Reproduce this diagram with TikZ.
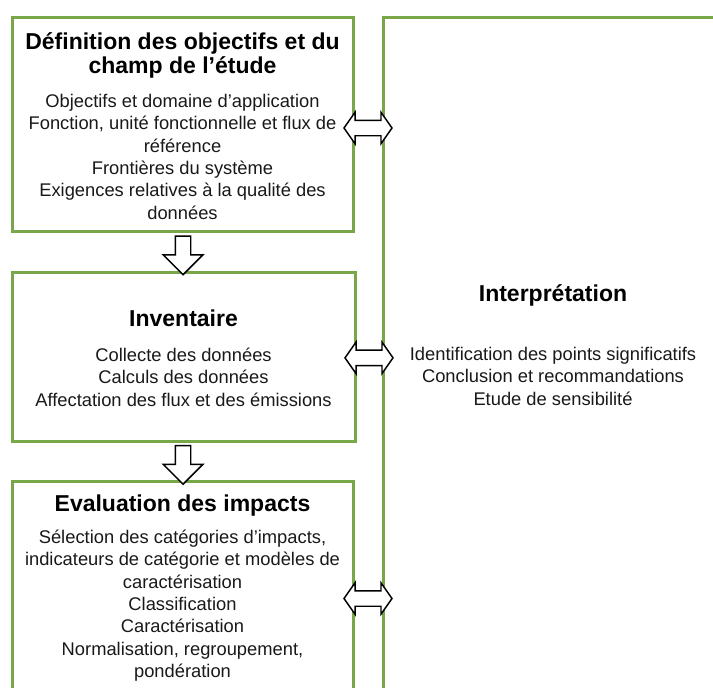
\documentclass[tikz,border=0pt]{standalone}
\usepackage{fontspec}
\setmainfont{Liberation Sans}
\usetikzlibrary{shapes.arrows,shadows}

\definecolor{acvgreen}{RGB}{122,166,74}

\tikzset{every picture/.style={line width=0.75pt}}
\tikzset{
  phasebox/.style={rectangle, draw=acvgreen, line width=2.25pt, fill=white, inner sep=0pt,
    drop shadow={shadow xshift=1pt, shadow yshift=-1pt, opacity=0.35, fill=black!60}},
  titletext/.style={anchor=base, inner sep=0pt, text=black,
    font=\fontsize{17.25}{17.25}\selectfont\bfseries},
  bodytext/.style={anchor=base, inner sep=0pt, text=black!90,
    font=\fontsize{13.75}{16.75}\selectfont},
  downarrow/.style={single arrow, draw=black, fill=white, line width=1.1pt, rotate=-90,
    minimum height=29pt, minimum width=28.5pt, single arrow head extend=9pt, inner sep=5.25pt},
  botharrow/.style={double arrow, draw=black, fill=white, line width=1.1pt,
    minimum height=36pt, minimum width=22.5pt, double arrow head extend=6pt,
    double arrow tip angle=110, inner sep=5.25pt}
}
\newcommand{\blocklines}[1]{\begin{tabular}[t]{@{}c@{}}#1\end{tabular}}

\begin{document}
\begin{tikzpicture}[x=0.75pt,y=0.75pt,yscale=-1,xscale=1]
	\useasboundingbox (0,0) rectangle (713,687);
	\clip (0,0) rectangle (713,687);
	
	% Phase boxes
	\node[phasebox, minimum width=255.75pt, minimum height=160.5pt] (defin) at (182.5,124) {};
	\node[phasebox, minimum width=257.25pt, minimum height=126.75pt] (invent) at (183.5,356.5) {};
	\node[phasebox, minimum width=255.75pt, minimum height=164.25pt] (evalu) at (182.5,590.5) {};
	\node[phasebox, minimum width=267.75pt, minimum height=512.25pt] (interp) at (561.5,358.5) {};
	
	% Block arrows between the phases
	\path (defin.south) -- (invent.north) node[midway, downarrow] (down1) {};
	\path (invent.south) -- (evalu.north) node[midway, downarrow] (down2) {};
	\path ([yshift=3pt]defin.east) -- ([yshift=3pt]interp.west |- defin.east) node[midway, botharrow] (link1) {};
	\path ([yshift=1pt]invent.east) -- ([yshift=1pt]interp.west |- invent.east) node[midway, botharrow] (link2) {};
	\path ([yshift=6pt]evalu.east) -- ([yshift=6pt]interp.west |- evalu.east) node[midway, botharrow] (link3) {};
	
	% Text Node
	\node[titletext] (definT) at (182.5,49.5) {\blocklines{Définition des objectifs et du\\champ de l’étude}};
	% Text Node
	\node[bodytext] (definB) at (182.5,107.5) {\blocklines{Objectifs et domaine d’application\\Fonction, unité fonctionnelle et flux de\\référence\\Frontières du système\\Exigences relatives à la qualité des\\données}};
	% Text Node
	\node[titletext] (inventT) at (183.5,326) {\blocklines{Inventaire}};
	% Text Node
	\node[bodytext] (inventB) at (183.5,361.5) {\blocklines{Collecte des données\\Calculs des données\\Affectation des flux et des émissions}};
	% Text Node
	\node[titletext] (evaluT) at (182.5,511) {\blocklines{Evaluation des impacts}};
	% Text Node
	\node[bodytext] (evaluB) at (182.5,543.5) {\blocklines{Sélection des catégories d’impacts,\\indicateurs de catégorie et modèles de\\caractérisation\\Classification\\Caractérisation\\Normalisation, regroupement,\\pondération}};
	% Text Node
	\node[titletext] (interpT) at (553,301) {\blocklines{Interprétation}};
	% Text Node
	\node[bodytext] (interpB) at (553,360.5) {\blocklines{Identification des points significatifs\\Conclusion et recommandations\\Etude de sensibilité}};
	
\end{tikzpicture}
\end{document}
